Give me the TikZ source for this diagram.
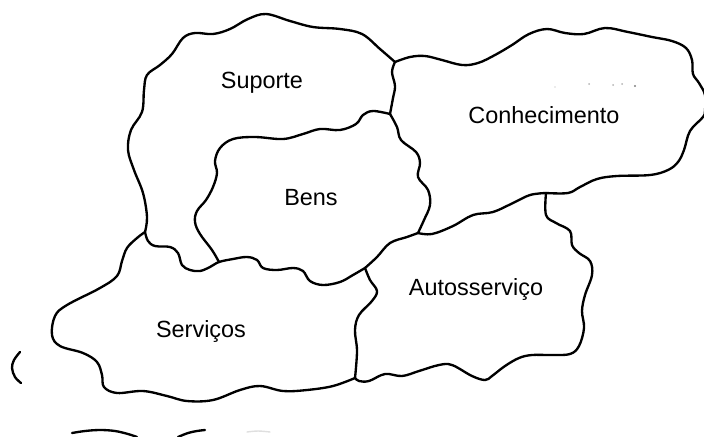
\documentclass[tikz,border=0pt]{standalone}
\usepackage{fontspec}
\setmainfont{Liberation Sans}

\begin{document}
\begin{tikzpicture}[x=0.03cm, y=-0.03cm,
    border/.style={line width=2pt, line cap=round, line join=round},
    region/.style={font=\fontsize{20}{24}\selectfont, inner sep=0pt}]
    \useasboundingbox (0,0) rectangle (704,436);

    % Knoten der Grenzen
    \coordinate (J0) at (145,232);
    \coordinate (J1) at (395,62);
    \coordinate (J2) at (219,262);
    \coordinate (J3) at (418,233);
    \coordinate (J4) at (365,268);
    \coordinate (J5) at (546,193);
    \coordinate (J6) at (355,378);
    \coordinate (J7) at (390,114);

    % Suporte aussen
    \draw[border] plot[smooth, tension=0.6] coordinates {(J0) (147,217) (143,193) (134,170) (128,150) (131,130)
        (142,112) (144,90) (147,75) (160,65) (172,54) (183,38) (195,33) (213,34) (230,29) (248,19)
        (266,14) (290,21) (313,27) (340,29) (362,34) (380,49) (J1)};
    \draw[border] plot[smooth, tension=0.6] coordinates {(J1) (392,72) (395,86) (393,98) (J7)};

    % Conhecimento
    \draw[border] plot[smooth, tension=0.6] coordinates {(J1) (410,57) (425,56) (442,60) (462,65) (478,63)
        (495,55) (512,45) (529,34) (547,29) (565,33) (584,34) (605,28) (628,32) (652,37) (672,41)
        (686,48) (692,60) (693,74) (699,83) (705,95) (705,110) (703,117) (690,131) (684,150)
        (678,162) (668,170) (650,175) (617,176) (597,179) (580,187) (568,193) (J5)};
    \draw[border] plot[smooth, tension=0.6] coordinates {(J5) (530,195) (513,203) (493,212) (473,215)
        (453,226) (432,234) (J3)};
    \draw[border] plot[smooth, tension=0.6] coordinates {(J7) (397,127) (401,140) (416,152) (420,163)
        (418,177) (428,190) (430,205) (424,220) (J3)};

    % Bens
    \draw[border] plot[smooth, tension=0.6] coordinates {(J7) (373,111) (363,115) (356,124) (340,130)
        (320,129) (303,134) (283,139) (255,137) (233,139) (220,148) (215,161) (217,173) (213,187)
        (206,200) (197,211) (195,222) (200,234) (212,250) (J2)};
    \draw[border] plot[smooth, tension=0.6] coordinates {(J0) (148,241) (155,246) (170,247) (178,253)
        (182,265) (190,270) (200,271) (210,267) (J2) (233,259) (247,257) (257,260) (263,268)
        (277,270) (293,268) (303,271) (310,281) (323,285) (340,282) (353,275) (J4)};
    \draw[border] plot[smooth, tension=0.6] coordinates {(J4) (377,257) (390,243) (407,237) (J3)};

    % Servicos
    \draw[border] plot[smooth, tension=0.6] coordinates {(J0) (137,238) (127,248) (122,261) (117,276)
        (100,288) (67,305) (55,316) (52,335) (60,346) (83,353) (97,362) (102,375) (104,387)
        (117,393) (143,391) (167,396) (187,401) (213,400) (240,390) (260,386) (283,391)
        (307,390) (333,386) (J6)};

    % Autosservico
    \draw[border] plot[smooth, tension=0.6] coordinates {(J6) (357,351) (355,330) (359,315) (372,301)
        (377,291) (370,280) (J4)};
    \draw[border] plot[smooth, tension=0.6] coordinates {(J5) (546,215) (556,223) (570,231) (572,245)
        (579,253) (590,261) (592,275) (585,295) (582,311) (584,328) (579,346) (570,354) (552,355)
        (532,355) (519,358) (505,366) (492,376) (485,380) (472,376) (452,365) (439,365) (419,371)
        (402,376) (385,374) (369,381) (359,381) (J6)};

    % Reste am Rand
    \draw[border] plot[smooth, tension=0.6] coordinates {(20,352) (14,360) (12,368) (15,377) (21,383)};
    \draw[border] plot[smooth, tension=0.6] coordinates {(72,433) (85,431) (100,430) (115,431) (128,434) (137,437)};
    \draw[border] plot[smooth, tension=0.6] coordinates {(178,437) (188,433) (197,431) (205,430)};
    \draw[border, gray!25, line width=1.2pt] plot[smooth, tension=0.6] coordinates {(247,432) (258,431) (270,432)};
    \fill[gray!30] (555,87) circle (0.8);
    \fill[gray!60] (589,84) circle (1);
    \fill[gray!60] (613,85) circle (1);
    \fill[gray!60] (622,84) circle (1);
    \fill[gray] (635,86) circle (1.2);

    % Beschriftungen
    \node[region] (suporte) at (262,83) {Suporte};
    \node[region] (conhecimento) at (544,115) {Conhecimento};
    \node[region] (bens) at (311,198) {Bens};
    \node[region] (autosservico) at (476,289) {Autosserviço};
    \node[region] (servicos) at (201,331) {Serviços};
\end{tikzpicture}
\end{document}
